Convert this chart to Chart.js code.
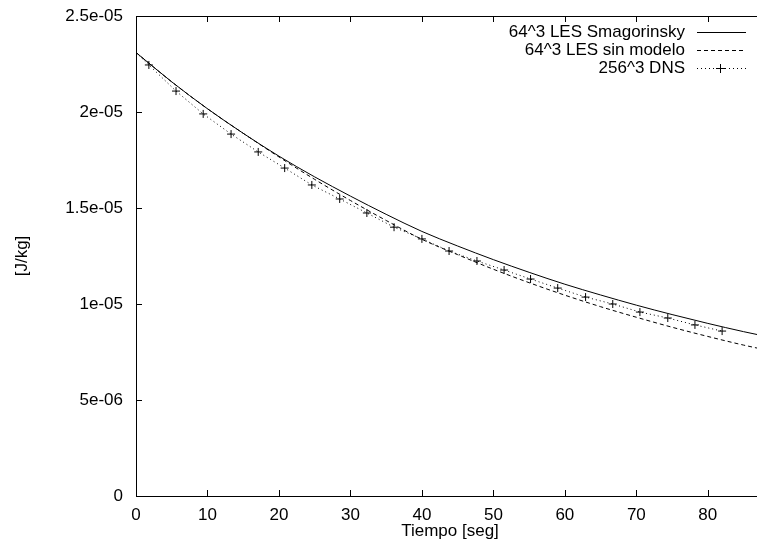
<!DOCTYPE html>
<html>
<head>
<meta charset="utf-8">
<script src="https://cdn.jsdelivr.net/npm/chart.js@4/dist/chart.umd.min.js"></script>
<style>
  html, body { margin: 0; padding: 0; background: #fff; overflow: hidden; }
  #wrap { width: 780px; height: 552px; }
</style>
</head>
<body>
<div id="wrap"><canvas id="myChart" width="780" height="552"></canvas></div>
<script>
// --- data ---
const smagT = [0, 5, 10, 15, 20, 25, 30, 35, 40, 45, 50, 55, 60, 65, 70, 75, 80, 85, 90];
const smagE = [2.310e-5, 2.157e-5, 2.017e-5, 1.889e-5, 1.770e-5, 1.662e-5, 1.562e-5, 1.467e-5, 1.378e-5, 1.302e-5,
  1.231e-5, 1.165e-5, 1.103e-5, 1.047e-5, 0.994e-5, 0.945e-5, 0.899e-5, 0.856e-5, 0.817e-5];
const sinModeloE = [2.310e-5, 2.157e-5, 2.017e-5, 1.889e-5, 1.766e-5, 1.649e-5, 1.539e-5, 1.435e-5, 1.337e-5, 1.257e-5,
  1.181e-5, 1.111e-5, 1.046e-5, 0.986e-5, 0.931e-5, 0.879e-5, 0.831e-5, 0.786e-5, 0.746e-5];
const dnsT = [0, 1.8, 5.6, 9.4, 13.3, 17.1, 20.8, 24.6, 28.5, 32.3, 36.1, 40.0, 43.8, 47.7, 51.5, 55.2, 59.0, 62.9, 66.7,
  70.5, 74.4, 78.2, 82.0];
const dnsE = [2.310e-5, 2.245e-5, 2.109e-5, 1.990e-5, 1.885e-5, 1.792e-5, 1.708e-5, 1.620e-5, 1.547e-5, 1.474e-5, 1.400e-5,
  1.339e-5, 1.276e-5, 1.224e-5, 1.177e-5, 1.130e-5, 1.083e-5, 1.036e-5, 1.000e-5, 0.958e-5, 0.927e-5, 0.891e-5, 0.859e-5];
const seriesNames = ["64^3 LES Smagorinsky", "64^3 LES sin modelo", "256^3 DNS"];
const xTicks = [0, 10, 20, 30, 40, 50, 60, 70, 80];
const yTicks = [0, 5e-6, 1e-5, 1.5e-5, 2e-5, 2.5e-5];
const yTickLabels = ["0", "5e-06", "1e-05", "1.5e-05", "2e-05", "2.5e-05"];
const xTitle = "Tiempo [seg]";
const yTitle = "[J/kg]";

const FONT = "Liberation Sans, Arial, Helvetica, sans-serif";
const FSIZE = 17;
const toPts = (xs, ys) => xs.map((x, i) => ({ x: x, y: ys[i] }));

// box, inward ticks, titles and legend like gnuplot
const gnuplotFrame = {
  id: "gnuplotFrame",
  afterDraw(chart) {
    const ctx = chart.ctx;
    const a = chart.chartArea;
    const xs = chart.scales.x, ys = chart.scales.y;
    ctx.save();
    ctx.strokeStyle = "#000";
    ctx.lineWidth = 1;
    ctx.beginPath();
    ctx.rect(Math.round(a.left) + 0.5, Math.round(a.top) + 0.5, Math.round(a.right - a.left), Math.round(a.bottom - a.top));
    const tl = 6;
    xTicks.forEach((v) => {
      const px = Math.round(xs.getPixelForValue(v)) + 0.5;
      ctx.moveTo(px, a.bottom); ctx.lineTo(px, a.bottom - tl);
      ctx.moveTo(px, a.top); ctx.lineTo(px, a.top + tl);
    });
    yTicks.forEach((v) => {
      const py = Math.round(ys.getPixelForValue(v)) + 0.5;
      ctx.moveTo(a.left, py); ctx.lineTo(a.left + tl, py);
      ctx.moveTo(a.right, py); ctx.lineTo(a.right - tl, py);
    });
    ctx.stroke();

    ctx.fillStyle = "#000";
    ctx.font = FSIZE + "px " + FONT;
    ctx.textAlign = "center";
    ctx.textBaseline = "middle";
    ctx.fillText(xTitle, 450, 531);
    ctx.save();
    ctx.translate(22, 256);
    ctx.rotate(-Math.PI / 2);
    ctx.fillText(yTitle, 0, 0);
    ctx.restore();

    // legend
    const rowY = [32, 50, 68];
    ctx.textAlign = "right";
    chart.data.datasets.forEach((ds, i) => {
      const y = rowY[i];
      ctx.fillStyle = "#000";
      ctx.fillText(ds.label, 685, y);
      ctx.beginPath();
      ctx.setLineDash(ds.borderDash || []);
      ctx.strokeStyle = ds.borderColor;
      ctx.lineWidth = 1;
      ctx.moveTo(697, y + 0.5);
      ctx.lineTo(746, y + 0.5);
      ctx.stroke();
      ctx.setLineDash([]);
      if (i === 2) {
        ctx.beginPath();
        ctx.moveTo(720.5, y - 4); ctx.lineTo(720.5, y + 5);
        ctx.moveTo(716, y + 0.5); ctx.lineTo(725, y + 0.5);
        ctx.stroke();
      }
    });
    ctx.restore();
  }
};

const ctx = document.getElementById("myChart").getContext("2d");
const myChart = new Chart(ctx, {
  type: "line",
  data: {
    datasets: [
      {
        label: seriesNames[0],
        data: toPts(smagT, smagE),
        borderColor: "#000",
        borderWidth: 1,
        pointRadius: 0,
        cubicInterpolationMode: "monotone",
      },
      {
        label: seriesNames[1],
        data: toPts(smagT, sinModeloE),
        borderColor: "#000",
        borderWidth: 1,
        borderDash: [4, 3],
        pointRadius: 0,
        cubicInterpolationMode: "monotone",
      },
      {
        label: seriesNames[2],
        data: toPts(dnsT, dnsE),
        borderColor: "#000",
        borderWidth: 1,
        borderDash: [1, 3],
        pointStyle: "cross",
        pointRadius: (c) => (c.dataIndex === 0 ? 0 : 4),
        pointBorderColor: "#000",
        pointBorderWidth: 1,
      },
    ],
  },
  options: {
    responsive: false,
    animation: false,
    events: [],
    layout: { padding: { left: 0, top: 16, right: 15, bottom: 0 } },
    plugins: { legend: { display: false }, tooltip: { enabled: false } },
    scales: {
      x: {
        type: "linear",
        min: 0,
        max: 88,
        afterBuildTicks: (s) => { s.ticks = xTicks.map((v) => ({ value: v })); },
        afterFit: (s) => { s.height = 56; },
        grid: { display: false, drawTicks: false },
        border: { display: false },
        ticks: { color: "#000", padding: 9, maxRotation: 0, font: { family: FONT, size: FSIZE } },
      },
      y: {
        type: "linear",
        min: 0,
        max: 2.5e-5,
        afterBuildTicks: (s) => { s.ticks = yTicks.map((v) => ({ value: v })); },
        afterFit: (s) => { s.width = 136; s.paddingTop = 4; s.paddingBottom = 4; },
        grid: { display: false, drawTicks: false },
        border: { display: false },
        ticks: {
          color: "#000",
          padding: 13,
          font: { family: FONT, size: FSIZE },
          callback: (v) => { const i = yTicks.indexOf(v); return i >= 0 ? yTickLabels[i] : ""; },
        },
      },
    },
  },
  plugins: [gnuplotFrame],
});
</script>
</body>
</html>
